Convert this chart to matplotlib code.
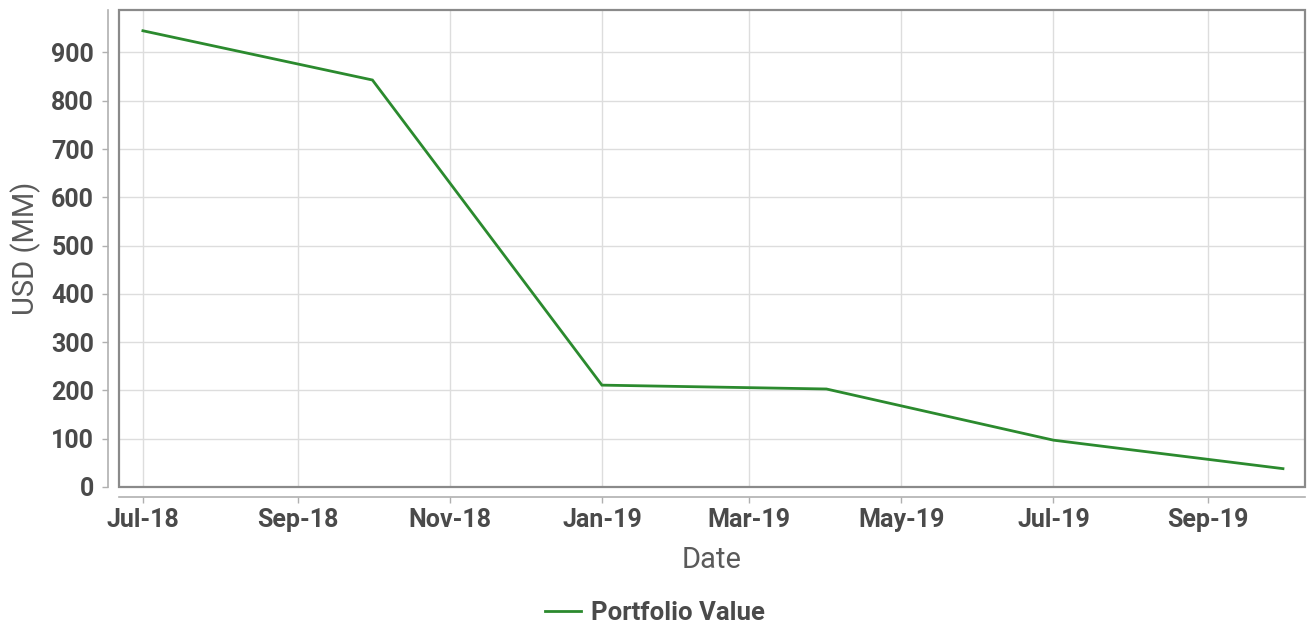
import matplotlib
matplotlib.use("Agg")
import matplotlib.pyplot as plt
import matplotlib.dates as mdates
from matplotlib.patches import Rectangle
import datetime as dt

dates = ["2018-07-01", "2018-10-01", "2019-01-01", "2019-04-01", "2019-07-01", "2019-10-01"]
values = [945, 843, 211, 203, 97, 38]
series_name = "Portfolio Value"
x_title = "Date"
y_title = "USD (MM)"
y_ticks = [0, 100, 200, 300, 400, 500, 600, 700, 800, 900]
x_tick_dates = ["2018-07-01", "2018-09-01", "2018-11-01", "2019-01-01",
                "2019-03-01", "2019-05-01", "2019-07-01", "2019-09-01"]

W, H = 1307, 627
fig = plt.figure(figsize=(W / 100, H / 100), dpi=100)
L, R, T, B = 119, 1305, 10, 487
ax = fig.add_axes([L / W, (H - B) / H, (R - L) / W, (B - T) / H])

xd = [dt.datetime.fromisoformat(d) for d in dates]
ax.plot(xd, values, color="#2b8a2e", lw=2.0, solid_joinstyle="miter", zorder=3)

ax.set_xlim(dt.datetime(2018, 6, 21, 10), dt.datetime(2019, 10, 9, 20))
ax.set_ylim(0, 988)

ax.set_yticks(y_ticks)
ax.set_xticks([dt.datetime.fromisoformat(d) for d in x_tick_dates])
ax.xaxis.set_major_formatter(mdates.DateFormatter("%b-%y"))

ax.grid(True, color="#dddddd", lw=1.0, zorder=0)
ax.set_axisbelow(True)

for s in ["top", "right"]:
    ax.spines[s].set_visible(False)
ax.spines["left"].set_position(("outward", 8))
ax.spines["bottom"].set_position(("outward", 7))
for s in ["left", "bottom"]:
    ax.spines[s].set_color("#b0b0b0")
    ax.spines[s].set_linewidth(1.2)

ax.add_patch(Rectangle((0, 0), 1, 1, transform=ax.transAxes, fill=False,
                       edgecolor="#8a8a8a", lw=1.6, zorder=4, clip_on=False))

ax.tick_params(axis="both", color="#b0b0b0", length=4, width=1.0,
               labelcolor="#4a4a4a", labelsize=18)
ax.tick_params(axis="x", pad=4)
ax.tick_params(axis="y", pad=6)
for lab in ax.get_xticklabels() + ax.get_yticklabels():
    lab.set_fontfamily("Roboto")
    lab.set_fontweight("bold")

ax.set_xlabel(x_title, family="Roboto", size=21, color="#5a5a5a", labelpad=10)
ax.set_ylabel(y_title, family="Roboto", size=21, color="#5a5a5a", labelpad=7)

leg = fig.legend([ax.lines[0]], [series_name], loc="center", bbox_to_anchor=(655 / W, 1 - 613 / H),
                 frameon=False, handlelength=1.4, handletextpad=0.4,
                 prop=dict(family="Roboto", weight="bold", size=18.5))
for t in leg.get_texts():
    t.set_color("#4a4a4a")

fig.savefig("out.png", dpi=100)
